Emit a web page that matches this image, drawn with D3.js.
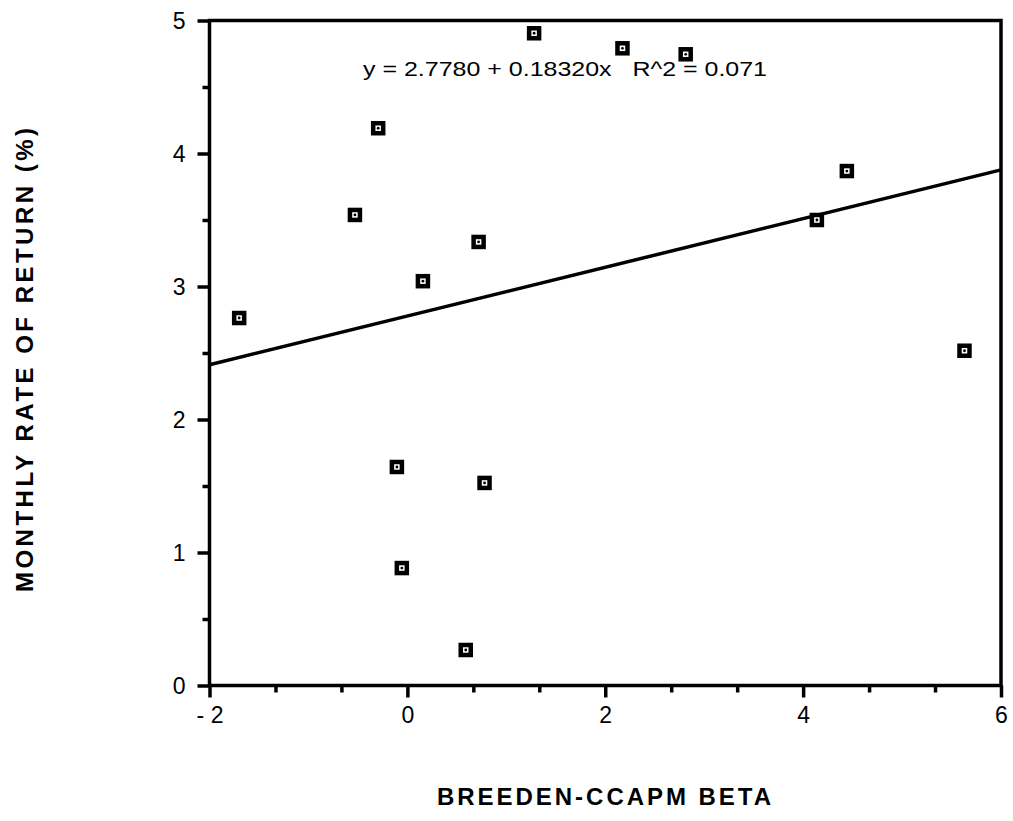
<!DOCTYPE html>
<html>
<head>
<meta charset="utf-8">
<script src="https://cdn.jsdelivr.net/npm/d3@7"></script>
<style>
  body { margin: 0; background: #fff; }
  svg { font-family: "Liberation Sans", Arial, sans-serif; }
</style>
</head>
<body>
<svg id="chart" width="1013" height="821"></svg>
<script>
// data
var beta = [-1.70, -0.53, -0.295, 0.157, 0.72, 1.281, 2.174, 2.813, 4.139, 4.442, 5.631, -0.106, -0.056, 0.78, 0.59];
var ret  = [2.763, 3.538, 4.19, 3.04, 3.335, 4.904, 4.791, 4.746, 3.50, 3.868, 2.517, 1.643, 0.883, 1.523, 0.267];
var xTicks = [-2, 0, 2, 4, 6];
var xTickLabels = ["- 2", "0", "2", "4", "6"];
var yTicks = [0, 1, 2, 3, 4, 5];
var yTickLabels = ["0", "1", "2", "3", "4", "5"];
var intercept = 2.7780, slope = 0.18320;
var eqText = "y = 2.7780 + 0.18320x   R^2 = 0.071";

var svg = d3.select("#chart");

var x = d3.scaleLinear().domain([-2, 6]).range([209.5, 1001]);
var y = d3.scaleLinear().domain([0, 5]).range([685.5, 20.5]);

var xMinor = d3.range(-2, 6.01, 2 / 3).filter(function (v, i) { return i % 3 != 0; });
var yMinor = d3.range(0.5, 5, 1);

// minor ticks
svg.append("g")
    .attr("transform", "translate(0," + y(0) + ")")
    .call(d3.axisBottom(x).tickValues(xMinor).tickSize(7).tickFormat(""))
    .call(function (g) { g.select(".domain").remove(); });
svg.append("g")
    .attr("transform", "translate(" + x(-2) + ",0)")
    .call(d3.axisLeft(y).tickValues(yMinor).tickSize(7).tickFormat(""))
    .call(function (g) { g.select(".domain").remove(); });

// major ticks with labels
var xAxis = svg.append("g")
    .attr("transform", "translate(0," + y(0) + ")")
    .call(d3.axisBottom(x).tickValues(xTicks).tickSize(12).tickPadding(9)
        .tickFormat(function (d, i) { return xTickLabels[i]; }));
xAxis.select(".domain").remove();

var yAxis = svg.append("g")
    .attr("transform", "translate(" + x(-2) + ",0)")
    .call(d3.axisLeft(y).tickValues(yTicks).tickSize(12).tickPadding(12)
        .tickFormat(function (d, i) { return yTickLabels[i]; }));
yAxis.select(".domain").remove();

svg.selectAll(".tick line").attr("stroke", "#000").attr("stroke-width", 3.5);
svg.selectAll(".tick text")
    .attr("font-family", "Liberation Sans, Arial, sans-serif")
    .attr("font-size", 23)
    .attr("fill", "#000");
yAxis.selectAll(".tick text").attr("dy", "0.36em");

// frame
svg.append("rect")
    .attr("x", x(-2)).attr("y", y(5))
    .attr("width", x(6) - x(-2)).attr("height", y(0) - y(5))
    .attr("fill", "none").attr("stroke", "#000").attr("stroke-width", 3.5);

// regression line
svg.append("line")
    .attr("x1", x(-2)).attr("y1", y(intercept + slope * -2))
    .attr("x2", x(6)).attr("y2", y(intercept + slope * 6))
    .attr("stroke", "#000").attr("stroke-width", 3.5);

// markers
var pts = svg.append("g").selectAll("g")
    .data(beta.map(function (b, i) { return [b, ret[i]]; }))
    .enter().append("g")
    .attr("transform", function (d) { return "translate(" + x(d[0]) + "," + y(d[1]) + ")"; });
pts.append("rect")
    .attr("x", -5).attr("y", -5).attr("width", 10).attr("height", 10)
    .attr("fill", "#fff").attr("stroke", "#000").attr("stroke-width", 4.5);
pts.append("circle").attr("r", 1.4).attr("fill", "#000");

// equation
svg.append("text")
    .attr("x", 363).attr("y", 76)
    .attr("font-size", 21)
    .attr("textLength", 404).attr("lengthAdjust", "spacingAndGlyphs")
    .style("white-space", "pre")
    .text(eqText);

// axis titles
svg.append("text")
    .attr("x", 604).attr("y", 805)
    .attr("text-anchor", "middle")
    .attr("font-size", 24).attr("font-weight", "bold")
    .attr("textLength", 334).attr("lengthAdjust", "spacing")
    .text("BREEDEN-CCAPM BETA");

svg.append("text")
    .attr("transform", "translate(33,360) rotate(-90)")
    .attr("text-anchor", "middle")
    .attr("font-size", 24).attr("font-weight", "bold")
    .attr("textLength", 464).attr("lengthAdjust", "spacing")
    .text("MONTHLY RATE OF RETURN (%)");
</script>
</body>
</html>
